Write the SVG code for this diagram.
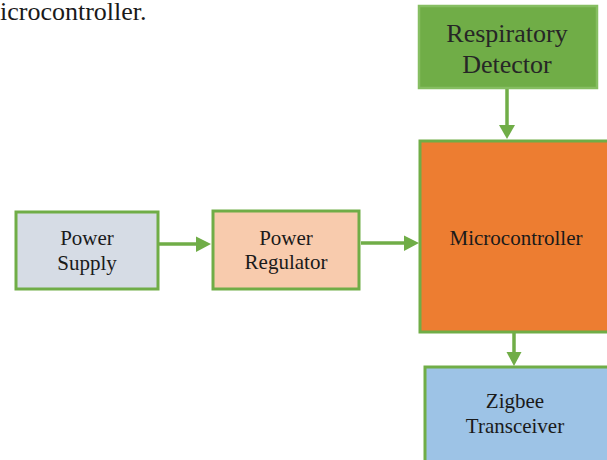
<svg xmlns="http://www.w3.org/2000/svg" width="607" height="460" viewBox="0 0 607 460">
  <style>
    text { font-family: "Liberation Serif", "Times New Roman", Times, "DejaVu Serif", serif; }
    .box { stroke: #70AD47; stroke-width: 3; }
    .lbl { font-size: 21px; fill: #1a1a1a; text-anchor: middle; }
    .big { font-size: 26px; fill: #262626; }
    .wire { stroke: #70AD47; stroke-width: 3.5; fill: none; }
    .head { fill: #70AD47; }
  </style>
  <rect width="607" height="460" fill="#ffffff"/>

  <!-- tail of the caption line above the figure -->
  <text x="0" y="20" font-size="26" fill="#1a1a1a">icrocontroller.</text>

  <g id="connectors">
    <line class="wire" x1="507" y1="88" x2="507" y2="126"/>
    <polygon class="head" points="499,125 515,125 507,139"/>
    <line class="wire" x1="159" y1="244" x2="197" y2="244"/>
    <polygon class="head" points="196,236.5 196,252 211,244"/>
    <line class="wire" x1="361" y1="243" x2="405" y2="243"/>
    <polygon class="head" points="404,235.5 404,251 419,243"/>
    <line class="wire" x1="514" y1="333" x2="514" y2="353"/>
    <polygon class="head" points="506.5,352 521.5,352 514,366"/>
  </g>

  <g id="respiratory-detector">
    <rect x="419" y="6" width="178" height="82" fill="#70AD47" stroke="#86BE62" stroke-width="2.5"/>
    <text class="lbl big" x="507" y="42">Respiratory</text>
    <text class="lbl big" x="507" y="73">Detector</text>
  </g>

  <g id="microcontroller">
    <rect class="box" x="420" y="141" width="195" height="191" fill="#ED7D31"/>
    <text class="lbl" x="516" y="245">Microcontroller</text>
  </g>

  <g id="power-supply">
    <rect class="box" x="16" y="212" width="142" height="77" fill="#D6DCE5"/>
    <text class="lbl" x="87" y="245">Power</text>
    <text class="lbl" x="87" y="270">Supply</text>
  </g>

  <g id="power-regulator">
    <rect class="box" x="213" y="211" width="146" height="78" fill="#F8CBAD"/>
    <text class="lbl" x="286" y="245">Power</text>
    <text class="lbl" x="286" y="269">Regulator</text>
  </g>

  <g id="zigbee-transceiver">
    <rect class="box" x="425" y="367" width="190" height="100" fill="#9DC3E6"/>
    <text class="lbl" x="515" y="408">Zigbee</text>
    <text class="lbl" x="515" y="433">Transceiver</text>
  </g>
</svg>
